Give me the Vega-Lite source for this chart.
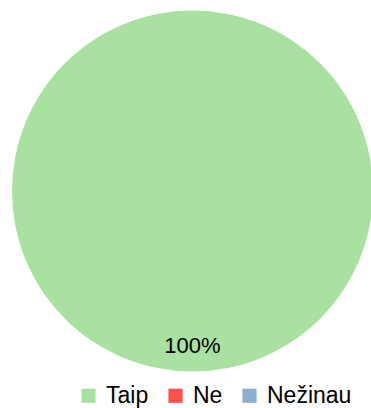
{
  "$schema": "https://vega.github.io/schema/vega-lite/v6.json",
  "width": 357,
  "height": 382,
  "autosize": {"type": "none"},
  "padding": {"left": 14, "top": 0, "right": 0, "bottom": 26},
  "background": "white",
  "view": {"stroke": null},
  "data": {
    "values": [
      {"answer": "Taip", "value": 100, "label": "100%"},
      {"answer": "Ne", "value": 0, "label": ""},
      {"answer": "Nežinau", "value": 0, "label": ""}
    ]
  },
  "encoding": {
    "theta": {"field": "value", "type": "quantitative", "stack": true},
    "order": {"field": "order", "type": "quantitative"}
  },
  "layer": [
    {
      "mark": {"type": "arc", "outerRadius": 180.5},
      "encoding": {
        "color": {
          "field": "answer",
          "type": "nominal",
          "sort": ["Taip", "Ne", "Nežinau"],
          "scale": {"domain": ["Taip", "Ne", "Nežinau"], "range": ["#A9E1A0", "#FF5050", "#8EAED2"]},
          "legend": {
            "title": null,
            "orient": "none",
            "direction": "horizontal",
            "legendX": 63,
            "legendY": 384,
            "symbolType": "square",
            "symbolSize": 200,
            "symbolStrokeWidth": 0,
            "labelFont": "Liberation Sans",
            "labelFontSize": 23,
            "labelColor": "#000000",
            "labelOffset": 6,
            "columnPadding": 15
          }
        }
      }
    },
    {
      "transform": [{"filter": "datum.value > 0"}],
      "mark": {"type": "text", "radius": 155, "font": "Liberation Sans", "fontSize": 22, "color": "#000000", "baseline": "middle"},
      "encoding": {"text": {"field": "label"}}
    }
  ]
}
